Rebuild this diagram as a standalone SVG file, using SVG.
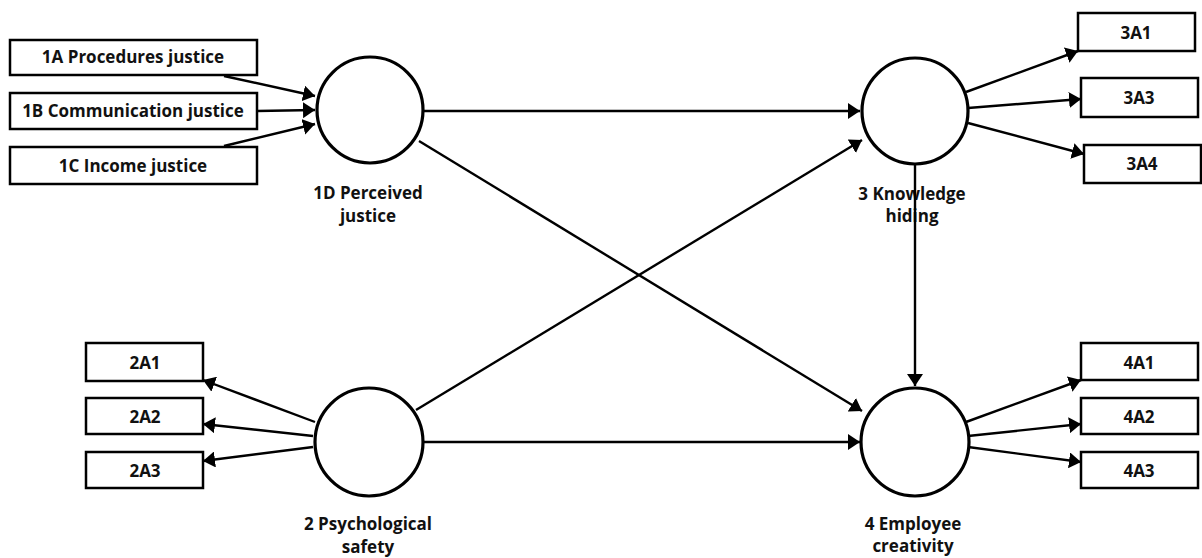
<svg xmlns="http://www.w3.org/2000/svg" width="1202" height="558" viewBox="0 0 1202 558">
<style>
.box{fill:#fff;stroke:#000;stroke-width:2.5}
.lv{fill:#fff;stroke:#000;stroke-width:3.2}
.t{font-family:"Open Sans","Liberation Sans",sans-serif;font-weight:700;font-size:17px;fill:#111;text-anchor:middle}
.c{stroke:#000;stroke-width:2.4;fill:none;marker-end:url(#ah)}
</style>
<defs>
<marker id="ah" markerUnits="userSpaceOnUse" markerWidth="14" markerHeight="16" refX="12" refY="8" orient="auto">
<path d="M0,0 L12,8 L0,16 z" fill="#000"/>
</marker>
</defs>
<rect width="1202" height="558" fill="#fff"/>
<g id="n1A"><rect class="box" x="10" y="40" width="247" height="35"/><text class="t" x="133" y="63">1A Procedures justice</text></g>
<g id="n1B"><rect class="box" x="10" y="93" width="247" height="36"/><text class="t" x="133" y="117">1B Communication justice</text></g>
<g id="n1C"><rect class="box" x="10" y="147" width="247" height="37"/><text class="t" x="133" y="172">1C Income justice</text></g>
<g id="n1D"><circle class="lv" cx="370" cy="110" r="53"/><text class="t" x="368" y="199">1D Perceived</text><text class="t" x="368" y="222">justice</text></g>
<g id="n2"><circle class="lv" cx="369" cy="442" r="54"/><text class="t" x="368" y="530">2 Psychological</text><text class="t" x="368" y="553">safety</text></g>
<g id="n3"><circle class="lv" cx="915" cy="111" r="53"/><text class="t" x="912" y="200">3 Knowledge</text><text class="t" x="912" y="222">hiding</text></g>
<g id="n4"><circle class="lv" cx="915" cy="442" r="54"/><text class="t" x="913" y="530">4 Employee</text><text class="t" x="913" y="552">creativity</text></g>
<g id="n3A1"><rect class="box" x="1078" y="13" width="117" height="38"/><text class="t" x="1136" y="39">3A1</text></g>
<g id="n3A3"><rect class="box" x="1081" y="78" width="117" height="39"/><text class="t" x="1139" y="104">3A3</text></g>
<g id="n3A4"><rect class="box" x="1084" y="145" width="117" height="38"/><text class="t" x="1142" y="170">3A4</text></g>
<g id="n2A1"><rect class="box" x="86" y="343" width="117" height="38"/><text class="t" x="145" y="369">2A1</text></g>
<g id="n2A2"><rect class="box" x="86" y="398" width="117" height="36"/><text class="t" x="145" y="423">2A2</text></g>
<g id="n2A3"><rect class="box" x="86" y="452" width="117" height="36"/><text class="t" x="145" y="477">2A3</text></g>
<g id="n4A1"><rect class="box" x="1081" y="343" width="117" height="37"/><text class="t" x="1139" y="369">4A1</text></g>
<g id="n4A2"><rect class="box" x="1081" y="398" width="117" height="36"/><text class="t" x="1139" y="423">4A2</text></g>
<g id="n4A3"><rect class="box" x="1081" y="452" width="117" height="36"/><text class="t" x="1139" y="477">4A3</text></g>
<g id="connectors">
<line class="c" x1="224" y1="76" x2="315" y2="96"/>
<line class="c" x1="257" y1="111" x2="315" y2="110"/>
<line class="c" x1="224" y1="146" x2="315" y2="124"/>
<line class="c" x1="423" y1="111" x2="860" y2="111"/>
<line class="c" x1="419" y1="141" x2="862" y2="411"/>
<line class="c" x1="416" y1="410" x2="862" y2="140"/>
<line class="c" x1="423" y1="442" x2="860" y2="442"/>
<line class="c" x1="915" y1="165" x2="915" y2="386"/>
<line class="c" x1="966" y1="92" x2="1078" y2="51"/>
<line class="c" x1="968" y1="108" x2="1081" y2="99"/>
<line class="c" x1="968" y1="123" x2="1084" y2="154"/>
<line class="c" x1="966" y1="422" x2="1081" y2="380"/>
<line class="c" x1="968" y1="436" x2="1081" y2="424"/>
<line class="c" x1="968" y1="447" x2="1081" y2="462"/>
<line class="c" x1="315" y1="422" x2="203" y2="380"/>
<line class="c" x1="313" y1="436" x2="203" y2="424"/>
<line class="c" x1="313" y1="447" x2="203" y2="461"/>
</g>
</svg>
